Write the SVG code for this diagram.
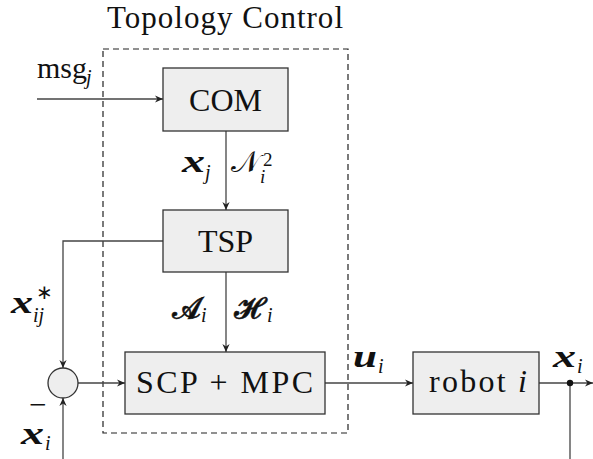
<svg xmlns="http://www.w3.org/2000/svg" width="593" height="459" viewBox="0 0 593 459">
  <defs>
    <marker id="arr" viewBox="0 0 10 10" refX="10" refY="5" markerWidth="8" markerHeight="8" markerUnits="userSpaceOnUse" orient="auto">
      <path d="M0,0.5 L10,5 L0,9.5 L3,5 Z" fill="#222222"/>
    </marker>
  </defs>
  <rect width="593" height="459" fill="#ffffff"/>

  <!-- Topology Control frame -->
  <g id="topology-control">
    <rect x="103" y="49" width="245" height="384" fill="none" stroke="#222222" stroke-width="1.2" stroke-dasharray="6,4"/>
    <text x="107" y="28" font-family="'Liberation Serif', 'Times New Roman', serif" font-size="31" fill="#111111" textLength="236" lengthAdjust="spacing">Topology Control</text>
  </g>

  <!-- connectors -->
  <g id="connectors" fill="none" stroke="#444444" stroke-width="1.3">
    <path d="M37,99 H163" marker-end="url(#arr)"/>
    <path d="M226,131 V210" marker-end="url(#arr)"/>
    <path d="M226,272 V352" marker-end="url(#arr)"/>
    <path d="M163,241 H63 V368" marker-end="url(#arr)"/>
    <path d="M63,459 V398" marker-end="url(#arr)"/>
    <path d="M78,383 H125" marker-end="url(#arr)"/>
    <path d="M325,383 H413" marker-end="url(#arr)"/>
    <path d="M539,383 H593" marker-end="url(#arr)"/>
    <path d="M570,383 V459"/>
    <circle cx="570" cy="383" r="3.2" fill="#111111" stroke="none"/>
  </g>

  <g id="com">
    <rect x="163" y="68" width="125" height="63" fill="#eeeeee" stroke="#333333" stroke-width="1.3"/>
    <text x="225.5" y="111" font-family="'Liberation Serif', 'Times New Roman', serif" font-size="32" fill="#111111" text-anchor="middle">COM</text>
  </g>

  <g id="tsp">
    <rect x="163" y="210" width="125" height="62" fill="#eeeeee" stroke="#333333" stroke-width="1.3"/>
    <text x="225.5" y="252" font-family="'Liberation Serif', 'Times New Roman', serif" font-size="32" fill="#111111" text-anchor="middle">TSP</text>
  </g>

  <g id="scp-mpc">
    <rect x="125" y="352" width="200" height="62" fill="#eeeeee" stroke="#333333" stroke-width="1.3"/>
    <text x="136" y="393" font-family="'Liberation Serif', 'Times New Roman', serif" font-size="32" fill="#111111" textLength="177" lengthAdjust="spacing">SCP + MPC</text>
  </g>

  <g id="robot">
    <rect x="413" y="352" width="126" height="62" fill="#eeeeee" stroke="#333333" stroke-width="1.3"/>
    <text x="429" y="392" font-family="'Liberation Serif', 'Times New Roman', serif" font-size="32" fill="#111111" textLength="98" lengthAdjust="spacing">robot <tspan font-style="italic">i</tspan></text>
  </g>

  <g id="sum">
    <circle cx="63" cy="383" r="15" fill="#eeeeee" stroke="#333333" stroke-width="1.3"/>
  </g>

  <!-- signal labels -->
  <g id="labels" fill="#111111" font-family="'Liberation Serif', 'Times New Roman', serif">
    <text x="37" y="78" font-size="30">msg</text>
    <text x="86" y="84" font-size="20" font-style="italic">j</text>

    <text x="182" y="172" font-size="31" font-style="italic" font-weight="bold" textLength="23" lengthAdjust="spacingAndGlyphs">x</text>
    <text x="205" y="179" font-size="20" font-style="italic">j</text>

    <text x="231" y="172" font-size="30">𝒩</text>
    <text x="260" y="183" font-size="19" font-style="italic">i</text>
    <text x="263" y="166" font-size="19">2</text>

    <text x="11" y="313" font-size="31" font-style="italic" font-weight="bold" textLength="22" lengthAdjust="spacingAndGlyphs">x</text>
    <text x="36" y="299" font-size="20">∗</text>
    <text x="33" y="322" font-size="20" font-style="italic">ij</text>

    <text x="172" y="318" font-size="30" stroke="#111111" stroke-width="0.6">𝓐</text>
    <text x="201" y="322" font-size="20" font-style="italic">i</text>
    <text x="234" y="318" font-size="30" stroke="#111111" stroke-width="0.6">𝓗</text>
    <text x="267" y="322" font-size="20" font-style="italic">i</text>

    <text x="29" y="415" font-size="31">−</text>
    <text x="21" y="444" font-size="31" font-style="italic" font-weight="bold" textLength="23" lengthAdjust="spacingAndGlyphs">x</text>
    <text x="45" y="450" font-size="20" font-style="italic">i</text>

    <text x="353" y="367" font-size="31" font-style="italic" font-weight="bold" textLength="24" lengthAdjust="spacingAndGlyphs">u</text>
    <text x="378" y="373" font-size="20" font-style="italic">i</text>
    <text x="553" y="367" font-size="31" font-style="italic" font-weight="bold" textLength="23" lengthAdjust="spacingAndGlyphs">x</text>
    <text x="577" y="373" font-size="20" font-style="italic">i</text>
  </g>
</svg>
